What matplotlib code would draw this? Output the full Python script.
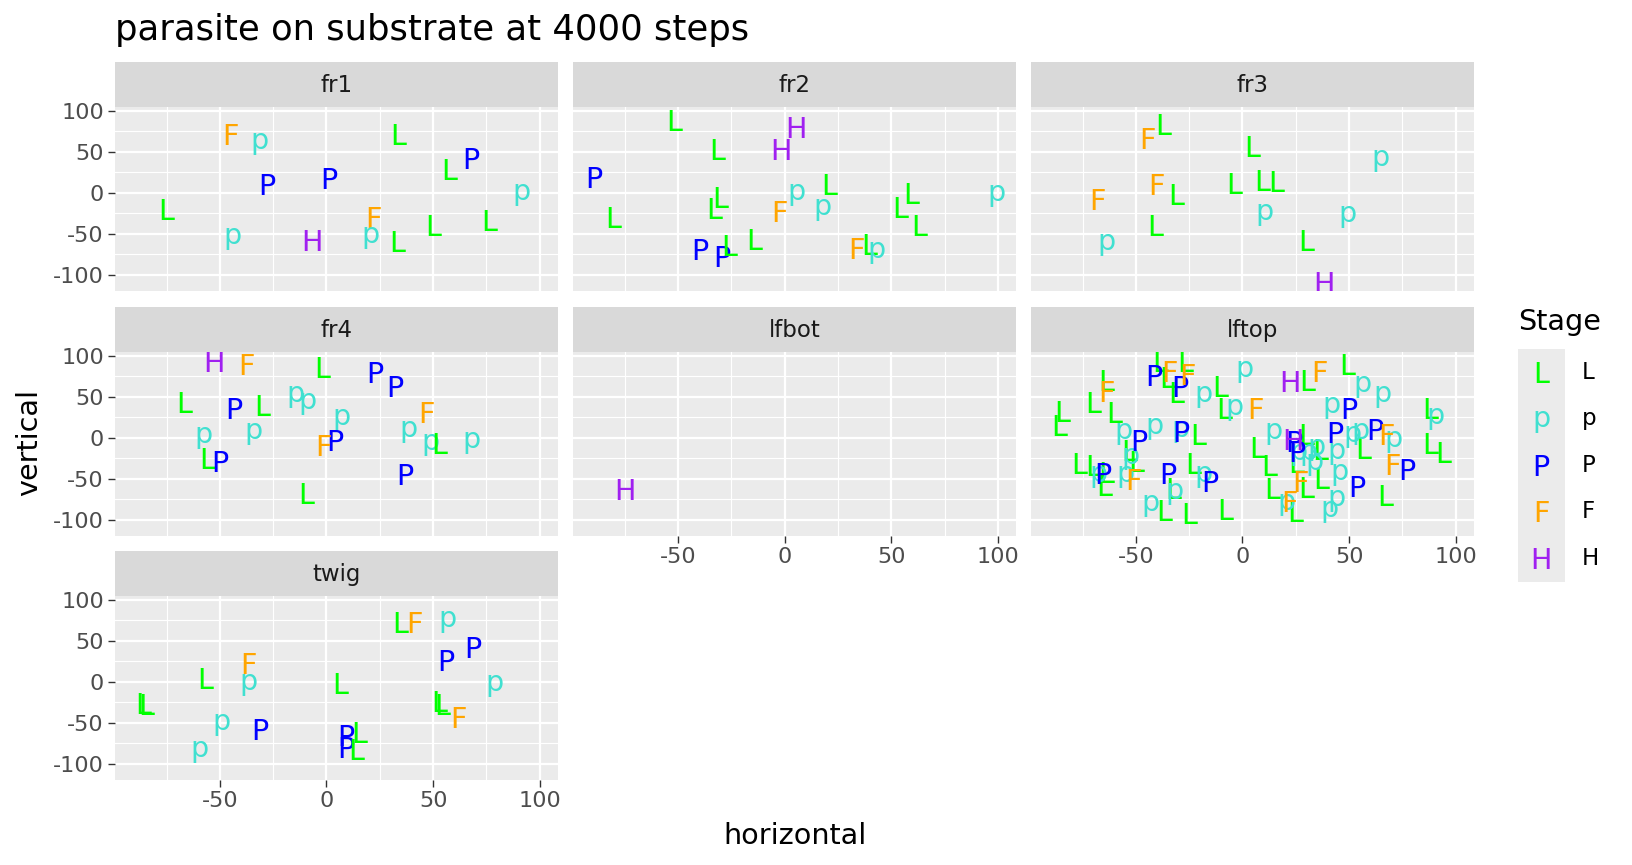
import matplotlib
matplotlib.use('Agg')
import matplotlib.pyplot as plt
import matplotlib.transforms as mtransforms
from matplotlib.patches import Rectangle

# ---------------- data ----------------
stage_levels = ['L', 'p', 'P', 'F', 'H']
stage_colors = ['#00FF00', '#40E0D0', '#0000FF', '#FFA500', '#A020F0']

fr1_stage = ['F', 'p', 'L', 'L', 'P', 'P', 'P', 'p', 'L', 'F', 'p', 'H', 'p', 'L', 'L', 'L']
fr1_x = [-45.2, -31.3, 33.6, 57.5, 67.8, -27.8, 0.9, 91.3, -75.3, 22.0, -44.2, -6.6, 20.6, 33.1, 50.0, 76.3]
fr1_y = [70.7, 62.6, 70.7, 28.0, 42.3, 10.6, 17.9, 1.2, -20.7, -30.5, -52.8, -58.0, -51.6, -59.5, -40.0, -34.0]

fr2_stage = ['L', 'L', 'H', 'H', 'P', 'L', 'L', 'L', 'F', 'p', 'L', 'p', 'L', 'L', 'L',
             'P', 'P', 'L', 'L', 'F', 'L', 'p', 'p']
fr2_x = [-51.7, -31.6, 5.3, -1.7, -89.7, -80.6, -30.3, -33.0, -2.3, 5.6, 20.9, 17.7, 59.5, 54.0, 63.1,
         -40.0, -29.7, -26.0, -14.5, 33.6, 39.7, 42.8, 99.3]
fr2_y = [87.8, 52.4, 79.3, 52.4, 18.3, -30.0, -5.7, -18.7, -22.4, 1.2, 9.8, -17.0, -1.2, -17.5, -40.0,
         -69.5, -77.6, -64.6, -57.3, -68.3, -63.4, -69.5, -0.8]

fr3_stage = ['F', 'L', 'L', 'p', 'F', 'L', 'L', 'L', 'L', 'F', 'p', 'p', 'L', 'p', 'L', 'H']
fr3_x = [-44.7, -37.0, 4.7, 64.8, -40.3, -31.1, -3.8, 9.1, 15.8, -68.1, 10.5, 49.2, -41.0, -64.0, 29.7, 38.1]
fr3_y = [66.7, 82.9, 56.5, 42.7, 9.8, -2.4, 11.0, 14.6, 13.8, -8.5, -23.2, -26.0, -40.0, -59.8, -58.5, -110.0]

fr4_stage = ['H', 'F', 'L', 'P', 'P', 'L', 'P', 'L', 'p', 'p', 'p', 'F', 'p', 'p', 'P', 'F',
             'p', 'p', 'L', 'p', 'L', 'P', 'P', 'L']
fr4_x = [-52.8, -37.5, -1.9, 22.8, 32.2, -66.7, -43.3, -30.2, -14.5, -9.1, 7.0, 47.0, -57.7, -34.0,
         3.8, -1.4, 38.3, 48.8, 53.0, 67.8, -55.9, -49.8, 36.9, -9.7]
fr4_y = [93.0, 89.8, 85.7, 79.6, 62.9, 42.9, 35.9, 39.6, 53.5, 44.5, 24.9, 30.6, 3.3, 7.8,
         -3.3, -9.0, 10.6, -5.7, -7.0, -2.4, -25.7, -29.0, -45.3, -68.6]

lfbot_stage = ['H']
lfbot_x = [-75.0]
lfbot_y = [-62.7]

lftop_stage = (['L'] * 39 + ['p'] * 29 + ['P'] * 14 + ['F'] * 10 + ['H'] * 2)
lftop_x = [
    # L
    -86.2, -84.8, -69.8, -64.0, -60.1, -53.0, -50.0, -76.5, -70.2, -64.0, -65.1, -32.7, -36.6,
    -38.5, -35.2, -26.8, -30.9, -10.4, -8.7, 30.3, -21.0, 6.8, 12.3, 30.0, 25.4, 36.6, 37.1,
    29.8, 13.8, 24.5, -25.2, -8.0, -22.9, 49.3, 56.6, 66.9, 88.0, 88.2, 94.3,
    # p
    -56.0, -41.3, -52.6, -67.7, -54.9, -32.0, -43.0, -18.2, 1.0, -3.7, 14.6, 26.5, 31.2, 34.8,
    34.0, 20.7, -18.2, 56.5, 65.8, 41.9, 51.6, 55.4, 71.0, 44.0, 45.5, 44.3, 40.9, 90.4, -29.2,
    # P
    -48.7, -65.5, -34.9, -41.5, -29.6, -28.8, 24.3, 25.4, -15.5, 50.1, 43.4, 61.9, 77.1, 53.7,
    # F
    -63.7, -51.2, -34.1, -25.7, 5.9, 36.2, 27.3, 21.8, 67.6, 70.5,
    # H
    22.3, 23.8]
lftop_y = [
    # L
    15.5, 32.2, 43.2, 70.5, 31.0, -15.0, -29.0, -31.4, -33.4, -42.0, -58.7, -62.0, -88.8,
    92.9, 73.8, 92.9, 55.4, 62.3, 35.9, 70.5, 4.1, -11.8, -33.4, 4.0, -29.7, -14.3, -49.7,
    -60.7, -62.0, -90.5, -92.5, -87.2, -31.4, 89.6, -13.4, -70.5, 35.5, -6.9, -17.9,
    # p
    8.1, 13.9, -22.4, -44.4, -44.4, -64.8, -80.0, 53.4, 83.5, 37.1, 8.6, -17.9, -18.0, -11.4,
    -30.0, -79.0, -44.4, 65.6, 53.0, 39.9, 4.5, 8.6, -1.6, -15.9, -42.4, -74.2, -87.2, 26.9, 10.6,
    # P
    -3.7, -44.0, -44.0, 76.2, 63.2, 7.7, -4.9, -17.0, -53.4, 36.3, 6.1, 10.2, -38.7, -59.5,
    # F
    56.6, -50.5, 81.5, 77.0, 35.5, 81.0, -53.8, -77.4, 4.1, -32.2,
    # H
    68.9, -2.0]

twig_stage = ['L', 'F', 'p', 'P', 'P', 'F', 'L', 'p', 'L', 'p', 'L', 'L', 'L', 'L', 'F',
              'p', 'P', 'p', 'P', 'L', 'P', 'L']
twig_x = [34.5, 41.1, 56.6, 68.6, 55.9, -36.6, -57.0, -36.7, 6.3, 78.9, -86.0, -84.5, 52.7, 54.2, 61.9,
          -49.2, -31.1, -59.5, 8.9, 15.3, 9.2, 13.8]
twig_y = [72.4, 72.8, 76.1, 41.6, 26.3, 21.8, 3.7, 0.0, -2.5, -2.1, -27.0, -28.0, -24.3, -28.4, -43.2,
          -49.4, -58.4, -82.3, -65.4, -61.7, -80.7, -83.1]

x_ticks = [-50, 0, 50, 100]
x_ticklabels = ['-50', '0', '50', '100']
y_ticks = [-100, -50, 0, 50, 100]
y_ticklabels = ['-100', '-50', '0', '50', '100']

panels = [
    ('fr1', fr1_stage, fr1_x, fr1_y),
    ('fr2', fr2_stage, fr2_x, fr2_y),
    ('fr3', fr3_stage, fr3_x, fr3_y),
    ('fr4', fr4_stage, fr4_x, fr4_y),
    ('lfbot', lfbot_stage, lfbot_x, lfbot_y),
    ('lftop', lftop_stage, lftop_x, lftop_y),
    ('twig', twig_stage, twig_x, twig_y),
]

# ---------------- layout ----------------
W, H = 1632, 865
DPI = 100
GG = 2.6 * 0.72          # matplotlib points per ggplot point
TXT = 11.0 * GG          # geom_text size
CAP, XH = 0.729, 0.547   # DejaVu cap height / x-height in em

col_left = [115.0, 573.3, 1031.0]
row_top = [61.7, 306.7, 550.7]
PW, PH, SH = 443.0, 184.0, 45.0
XLIM = (-99.2, 108.6)
YLIM = (-119.6, 105.2)

plt.rcParams['font.family'] = ['DejaVu Sans']
fig = plt.figure(figsize=(W / DPI, H / DPI), dpi=DPI)
fig.patch.set_facecolor('white')

color_of = dict(zip(stage_levels, stage_colors))


def glyph(ax, x, y, s, fs):
    off = 0.5 * (XH if s.islower() else CAP) * fs
    tr = mtransforms.offset_copy(ax.transData, fig=fig, x=0, y=-off, units='points')
    ax.text(x, y, s, transform=tr, ha='center', va='baseline', fontsize=fs,
            color=color_of[s], clip_on=True)


for i, (name, st, xs, ys) in enumerate(panels):
    r, c = divmod(i, 3)
    left = col_left[c]
    top = row_top[r] + SH
    ax = fig.add_axes([left / W, 1 - (top + PH) / H, PW / W, PH / H])
    ax.set_facecolor('#EBEBEB')
    ax.set_xlim(*XLIM)
    ax.set_ylim(*YLIM)
    for sp in ax.spines.values():
        sp.set_visible(False)
    ax.set_xticks(x_ticks)
    ax.set_yticks(y_ticks)
    ax.set_xticks([-75, -25, 25, 75], minor=True)
    ax.set_yticks([-75, -25, 25, 75], minor=True)
    ax.grid(which='major', color='white', linewidth=1.6)
    ax.grid(which='minor', color='white', linewidth=0.8)
    ax.set_axisbelow(True)
    ax.tick_params(which='minor', length=0)
    ax.tick_params(which='major', length=5.0, width=1.0, color='#333333',
                   labelsize=8.6 * GG, labelcolor='#4D4D4D', pad=3)
    show_x = (name in ('twig', 'lfbot', 'lftop'))
    show_y = (c == 0)
    if show_x:
        ax.set_xticklabels(x_ticklabels)
    else:
        ax.tick_params(axis='x', which='major', length=0, labelbottom=False)
    if show_y:
        ax.set_yticklabels(y_ticklabels)
    else:
        ax.tick_params(axis='y', which='major', length=0, labelleft=False)

    for s, x, y in zip(st, xs, ys):
        glyph(ax, x, y, s, TXT)

    # strip
    ax.add_patch(Rectangle((0, 1), 1, SH / PH, transform=ax.transAxes,
                           facecolor='#D9D9D9', edgecolor='none', clip_on=False))
    ax.text(0.5, 1 + 0.47 * SH / PH, name, transform=ax.transAxes, ha='center',
            va='center', fontsize=8.8 * GG, color='#1A1A1A')

# ---------------- titles ----------------
fig.text(115 / W, 1 - 30 / H, 'parasite on substrate at 4000 steps', ha='left', va='center',
         fontsize=13.2 * GG * 1.03, color='black')
fig.text(794.5 / W, 1 - 836 / H, 'horizontal', ha='center', va='center',
         fontsize=11 * GG, color='black')
fig.text(29 / W, 1 - 443 / H, 'vertical', ha='center', va='center', rotation=90,
         fontsize=11 * GG, color='black')

# ---------------- legend ----------------
KEY = 46.5
key_left, key_top = 1518.0, 349.0
n = len(stage_levels)
lax = fig.add_axes([key_left / W, 1 - (key_top + n * KEY) / H, KEY / W, n * KEY / H])
lax.set_xlim(0, 1)
lax.set_ylim(0, n)
lax.set_facecolor('#EBEBEB')
lax.axis('off')
lax.add_patch(Rectangle((0, 0), 1, n, facecolor='#EBEBEB', edgecolor='none'))
for k, s in enumerate(stage_levels):
    yk = n - 0.5 - k
    off = 0.5 * (XH if s.islower() else CAP) * TXT
    tr = mtransforms.offset_copy(lax.transData, fig=fig, x=0, y=-off, units='points')
    lax.text(0.5, yk, s, transform=tr, ha='center', va='baseline', fontsize=TXT,
             color=stage_colors[k])
    fig.text(1582 / W, 1 - (key_top + (k + 0.5) * KEY) / H, s, ha='left', va='center',
             fontsize=8.8 * GG, color='black')
fig.text(1518 / W, 1 - 322 / H, 'Stage', ha='left', va='center', fontsize=11 * GG, color='black')

fig.savefig('out.png', dpi=DPI, facecolor='white')
